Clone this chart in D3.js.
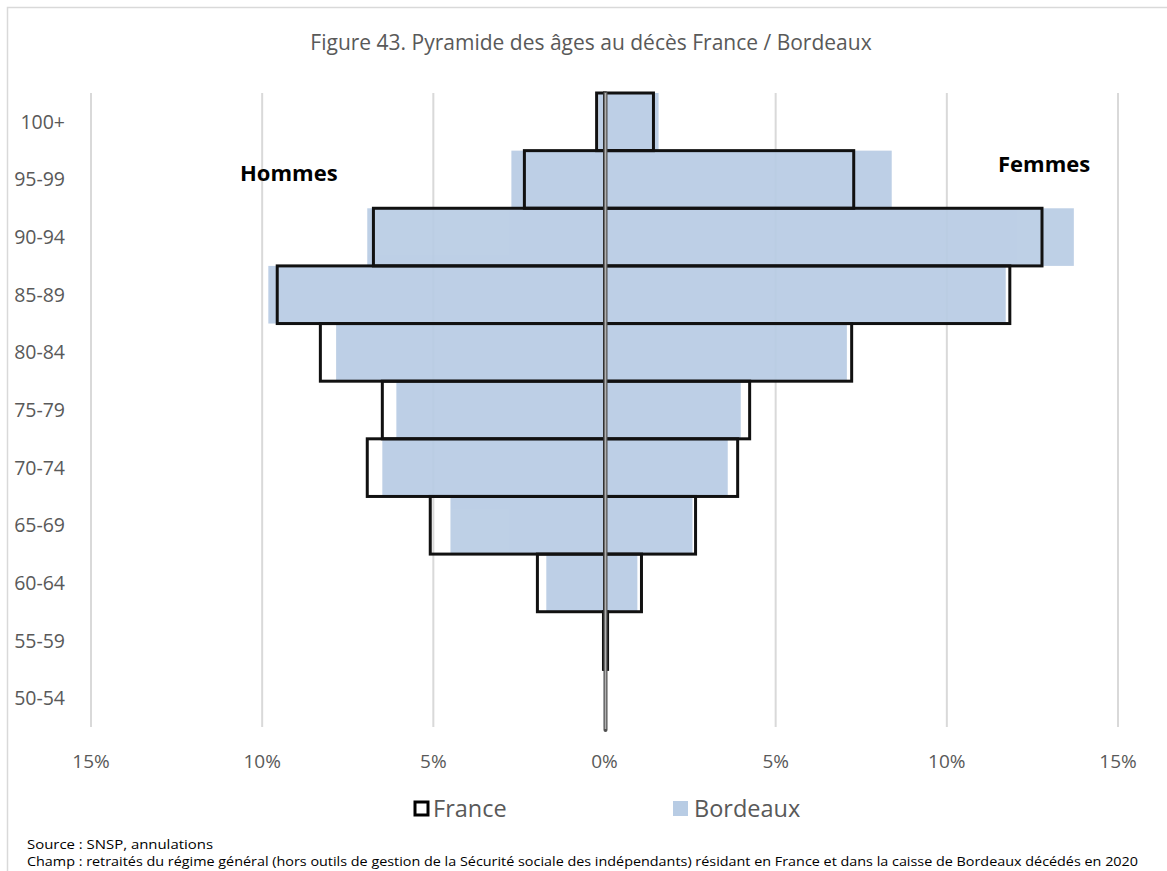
<!DOCTYPE html>
<html lang="fr">
<head>
<meta charset="UTF-8">
<title>Pyramide des âges</title>
<script src="https://d3js.org/d3.v7.min.js"></script>
<style>
  body { margin: 0; background: #fff; }
  svg { display: block; font-family: "Open Sans", Lato, sans-serif; }
</style>
</head>
<body>
<svg width="1167" height="871"></svg>
<script>
  // tranches d'âge, du haut vers le bas
  const ages = ["100+", "95-99", "90-94", "85-89", "80-84", "75-79", "70-74", "65-69", "60-64", "55-59", "50-54"]
  // part des décès en %
  const franceHommes = [0.23, 2.34, 6.75, 9.56, 8.30, 6.49, 6.93, 5.09, 1.96, 0.03, 0.0]
  const franceFemmes = [1.43, 7.28, 12.78, 11.84, 7.22, 4.24, 3.89, 2.66, 1.08, 0.09, 0.0]
  const bordeauxHommes = [0.18, 2.72, 6.93, 9.82, 7.84, 6.08, 6.49, 4.50, 1.70, 0.03, 0.02]
  const bordeauxFemmes = [1.58, 8.39, 13.71, 11.72, 7.08, 3.98, 3.60, 2.57, 0.96, 0.05, 0.02]
  const ticks = [-15, -10, -5, 0, 5, 10, 15]

  const svg = d3.select("svg")
  const x = d3.scaleLinear().domain([-15, 15]).range([91, 1118])
  const y = d3.scaleBand().domain(ages).range([93, 727]).padding(0)

  // cadre
  svg.append("path")
    .attr("d", "M7.5,871 V7.5 H1167")
    .attr("fill", "none")
    .attr("stroke", "#d9d9d9")
    .attr("stroke-width", 1.5)

  // grille
  svg.append("g")
    .selectAll("line")
    .data(ticks.filter(d => d !== 0))
    .join("line")
    .attr("x1", d => x(d)).attr("x2", d => x(d))
    .attr("y1", 93).attr("y2", 727)
    .attr("stroke", "#d9d9d9")
    .attr("stroke-width", 2)

  const rows = ages.map((a, i) => ({
    age: a,
    fh: franceHommes[i], ff: franceFemmes[i],
    bh: bordeauxHommes[i], bf: bordeauxFemmes[i]
  }))

  // Bordeaux (rempli)
  const gB = svg.append("g").attr("fill", "#b8cce4").attr("opacity", 0.92)
  gB.selectAll("rect.h")
    .data(rows)
    .join("rect")
    .attr("x", d => x(-d.bh))
    .attr("width", d => x(0) - x(-d.bh))
    .attr("y", d => y(d.age))
    .attr("height", y.bandwidth())
  gB.selectAll("rect.f")
    .data(rows)
    .join("rect")
    .attr("x", x(0))
    .attr("width", d => x(d.bf) - x(0))
    .attr("y", d => y(d.age))
    .attr("height", y.bandwidth())

  // France (contour)
  const gF = svg.append("g").attr("fill", "none").attr("stroke", "#111").attr("stroke-width", 3)
  gF.selectAll("rect.h")
    .data(rows.filter(d => d.fh > 0))
    .join("rect")
    .attr("x", d => x(-d.fh))
    .attr("width", d => x(0) - x(-d.fh))
    .attr("y", d => y(d.age))
    .attr("height", y.bandwidth())
  gF.selectAll("rect.f")
    .data(rows.filter(d => d.ff > 0))
    .join("rect")
    .attr("x", x(0))
    .attr("width", d => x(d.ff) - x(0))
    .attr("y", d => y(d.age))
    .attr("height", y.bandwidth())

  // axe zéro
  svg.append("line")
    .attr("x1", x(0) + 1).attr("x2", x(0) + 1)
    .attr("y1", 93).attr("y2", 730)
    .attr("stroke", "#505050").attr("stroke-width", 4)
    .attr("stroke-linecap", "round")
  svg.append("line")
    .attr("x1", x(0) + 1).attr("x2", x(0) + 1)
    .attr("y1", 93).attr("y2", 729)
    .attr("stroke", "#b0b0b0").attr("stroke-width", 1.6)

  // libellés des tranches
  svg.append("g")
    .selectAll("text")
    .data(ages)
    .join("text")
    .attr("x", 65)
    .attr("y", d => y(d) + y.bandwidth() / 2 + 7)
    .attr("text-anchor", "end")
    .attr("font-size", 19.5)
    .attr("fill", "#595959")
    .text(d => d)

  // axe x
  svg.append("g")
    .selectAll("text")
    .data(ticks)
    .join("text")
    .attr("x", d => x(d))
    .attr("y", 768)
    .attr("text-anchor", "middle")
    .attr("font-size", 19)
    .attr("fill", "#595959")
    .text(d => Math.abs(d) + "%")

  // titre
  svg.append("text")
    .attr("x", 591).attr("y", 50)
    .attr("text-anchor", "middle")
    .attr("font-size", 21)
    .attr("fill", "#595959")
    .text("Figure 43. Pyramide des âges au décès France / Bordeaux")

  svg.append("text")
    .attr("x", 240).attr("y", 181)
    .attr("font-size", 22).attr("font-weight", "bold")
    .attr("fill", "#000")
    .text("Hommes")
  svg.append("text")
    .attr("x", 998).attr("y", 172)
    .attr("font-size", 22).attr("font-weight", "bold")
    .attr("fill", "#000")
    .text("Femmes")

  // légende
  svg.append("rect")
    .attr("x", 415).attr("y", 802).attr("width", 13).attr("height", 13)
    .attr("fill", "none").attr("stroke", "#000").attr("stroke-width", 3)
  svg.append("text")
    .attr("x", 433).attr("y", 817)
    .attr("font-size", 23.5).attr("fill", "#595959")
    .text("France")
  svg.append("rect")
    .attr("x", 673).attr("y", 801).attr("width", 15).attr("height", 15)
    .attr("fill", "#b8cce4")
  svg.append("text")
    .attr("x", 694).attr("y", 817)
    .attr("font-size", 23.5).attr("fill", "#595959")
    .text("Bordeaux")

  // notes
  svg.append("text")
    .attr("x", 27).attr("y", 849)
    .attr("font-size", 13).attr("fill", "#000")
    .attr("textLength", 186).attr("lengthAdjust", "spacingAndGlyphs")
    .text("Source : SNSP, annulations")
  svg.append("text")
    .attr("x", 27).attr("y", 866)
    .attr("font-size", 13).attr("fill", "#000")
    .attr("textLength", 1111).attr("lengthAdjust", "spacingAndGlyphs")
    .text("Champ : retraités du régime général (hors outils de gestion de la Sécurité sociale des indépendants) résidant en France et dans la caisse de Bordeaux décédés en 2020")
</script>
</body>
</html>
